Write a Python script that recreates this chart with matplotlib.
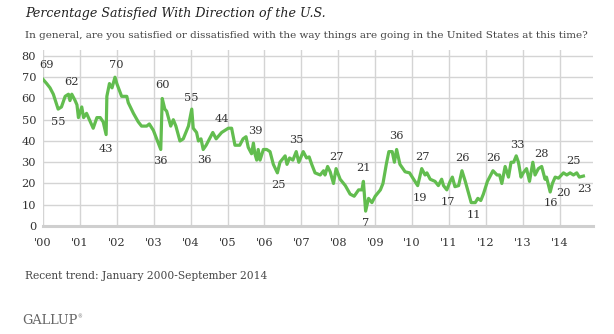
import matplotlib
matplotlib.use("Agg")
import matplotlib.pyplot as plt

# satisfaction readings, time in decimal years
times = [2000.00, 2000.10, 2000.19, 2000.28, 2000.41, 2000.50, 2000.60, 2000.69, 2000.73, 2000.78,
         2000.87, 2000.92, 2000.96, 2001.05, 2001.10, 2001.18, 2001.36, 2001.46, 2001.55, 2001.63,
         2001.71, 2001.73, 2001.80, 2001.87, 2001.95, 2002.00, 2002.13, 2002.27, 2002.31, 2002.45,
         2002.58, 2002.67, 2002.81, 2002.88, 2002.99, 2003.19, 2003.23, 2003.30, 2003.35, 2003.46,
         2003.53, 2003.60, 2003.71, 2003.80, 2003.94, 2004.03, 2004.07, 2004.16, 2004.21, 2004.28,
         2004.34, 2004.42, 2004.60, 2004.69, 2004.84, 2005.02, 2005.11, 2005.20, 2005.33, 2005.42,
         2005.50, 2005.56, 2005.65, 2005.70, 2005.74, 2005.79, 2005.83, 2005.88, 2005.97, 2006.06,
         2006.15, 2006.24, 2006.35, 2006.42, 2006.56, 2006.61, 2006.68, 2006.77, 2006.86, 2006.93,
         2007.05, 2007.14, 2007.21, 2007.28, 2007.37, 2007.51, 2007.60, 2007.64, 2007.71, 2007.78,
         2007.87, 2007.94, 2008.05, 2008.19, 2008.32, 2008.43, 2008.55, 2008.64, 2008.68, 2008.74,
         2008.82, 2008.91, 2009.00, 2009.14, 2009.21, 2009.30, 2009.37, 2009.46, 2009.52, 2009.58,
         2009.67, 2009.81, 2009.93, 2010.04, 2010.15, 2010.26, 2010.35, 2010.40, 2010.49, 2010.62,
         2010.71, 2010.80, 2010.85, 2010.94, 2011.03, 2011.09, 2011.16, 2011.26, 2011.35, 2011.44,
         2011.60, 2011.71, 2011.78, 2011.86, 2011.93, 2012.04, 2012.19, 2012.30, 2012.37, 2012.43,
         2012.52, 2012.61, 2012.68, 2012.75, 2012.82, 2012.88, 2012.95, 2013.01, 2013.10, 2013.18,
         2013.27, 2013.33, 2013.42, 2013.51, 2013.60, 2013.64, 2013.74, 2013.80, 2013.875, 2013.965,
         2014.10, 2014.19, 2014.28, 2014.37, 2014.46, 2014.53, 2014.64]
satisfied = [69, 67, 65, 62, 55, 56, 61, 62, 59, 62,
             59, 57, 51, 56, 51, 53, 46, 51, 51, 49,
             43, 61, 67, 65, 70, 67, 61, 61, 58, 53,
             49, 47, 47, 48, 45, 36, 60, 55, 54, 47,
             50, 47, 40, 41, 47, 55, 46, 44, 40, 41,
             36, 38, 44, 41, 44, 46, 46, 38, 38, 41,
             42, 37, 34, 39, 34, 31, 36, 31, 36, 36,
             35, 29, 25, 30, 33, 29, 32, 31, 35, 30,
             35, 32, 32.5, 29, 25, 24, 26, 24, 28, 25.5,
             20, 27, 22, 19, 15, 14, 17, 17, 21, 7,
             13, 11, 14, 17, 20, 29, 35, 35, 30, 36,
             29, 25.5, 25, 22, 19, 27, 24, 25, 22, 21,
             19, 22, 19, 17, 21, 23, 18.5, 19, 26, 21,
             11, 11, 13, 12, 15, 21, 26, 24, 24, 20,
             28, 23, 30, 30, 33, 30, 23, 25, 27, 21,
             30, 24, 27, 28, 22, 23, 16, 20, 23, 22.5,
             25, 24, 25, 24, 25, 23, 23.5]

# labelled readings: (time, text, x offset px, y offset px)
labels = [(2000.00, "69", 3, 14), (2000.41, "55", 0, -13), (2000.69, "62", 3, 12),
          (2001.71, "43", 0, -14), (2001.95, "70", 1, 12), (2003.19, "36", 0, -12),
          (2003.23, "60", 0, 13), (2004.03, "55", -1, 11), (2004.34, "36", 1, -11),
          (2005.02, "44", -6, 9), (2005.70, "39", 2, 12), (2006.35, "25", 1, -12),
          (2006.86, "35", 0, 12), (2007.94, "27", 0, 12), (2008.68, "21", 0, 13),
          (2008.74, "7", 0, -12), (2009.58, "36", 0, 13), (2010.15, "19", 2, -12),
          (2010.26, "27", 1, 12), (2010.94, "17", 1, -12), (2011.35, "26", 0, 13),
          (2011.71, "11", -1, -12), (2012.19, "26", 0, 13), (2012.82, "33", 1, 11),
          (2013.51, "28", 0, 12), (2013.74, "16", 1, -11), (2013.80, "20", 11, -10),
          (2014.28, "25", 3, 12), (2014.64, "23", 1, -13)]

years = list(range(2000, 2015))
year_labels = ["'%02d" % (y - 2000) for y in years]

serif = ["DejaVu Serif"]
green = "#62bd4f"
grid_c = "#d4d4d4"

fig = plt.figure(figsize=(6.14, 3.34), dpi=100)
ax = fig.add_axes([43 / 614, 1 - 226 / 334, 550 / 614, 176 / 334])

ax.set_xlim(2000, 2014.9)
ax.set_ylim(0, 82.8)
ax.set_xticks(years)
ax.set_xticklabels(year_labels, family=serif, fontsize=8.2, color="#333333")
ax.set_yticks(range(0, 90, 10))
ax.set_yticklabels([str(v) for v in range(0, 90, 10)], family=serif, fontsize=8.2, color="#333333")
ax.tick_params(length=0)
ax.tick_params(axis="y", pad=5)
ax.tick_params(axis="x", pad=9)
ax.grid(True, color=grid_c, lw=1)
ax.set_axisbelow(True)
for s in ["top", "right", "left"]:
    ax.spines[s].set_visible(False)
ax.spines["bottom"].set_color("#cfcfcf")
ax.spines["bottom"].set_linewidth(2.2)

ax.plot(times, satisfied, color=green, lw=2.3, solid_joinstyle="round", zorder=3)

for t, txt, dx, dy in labels:
    v = satisfied[times.index(t)]
    ax.annotate(txt, (t, v), xytext=(dx, dy), textcoords="offset pixels",
                ha="center", va="center", family=serif, fontsize=8.2, color="#333333")

fig.text(25 / 614, 1 - 14 / 334, "Percentage Satisfied With Direction of the U.S.",
         family=serif, style="italic", fontsize=9.1, color="#222222", va="center")
fig.text(25 / 614, 1 - 36 / 334,
         "In general, are you satisfied or dissatisfied with the way things are going in the United States at this time?",
         family=serif, fontsize=7.5, color="#444444", va="center")
fig.text(25 / 614, 1 - 276 / 334, "Recent trend: January 2000-September 2014",
         family=serif, fontsize=7.7, color="#444444", va="center")
fig.text(22 / 614, 1 - 321 / 334, "GALLUP", family=serif, fontsize=9.3, color="#666666", va="center")
fig.text(77 / 614, 1 - 317 / 334, "\u00ae", family=serif, fontsize=3.5, color="#666666", va="center")

fig.savefig("out.png", dpi=100)
